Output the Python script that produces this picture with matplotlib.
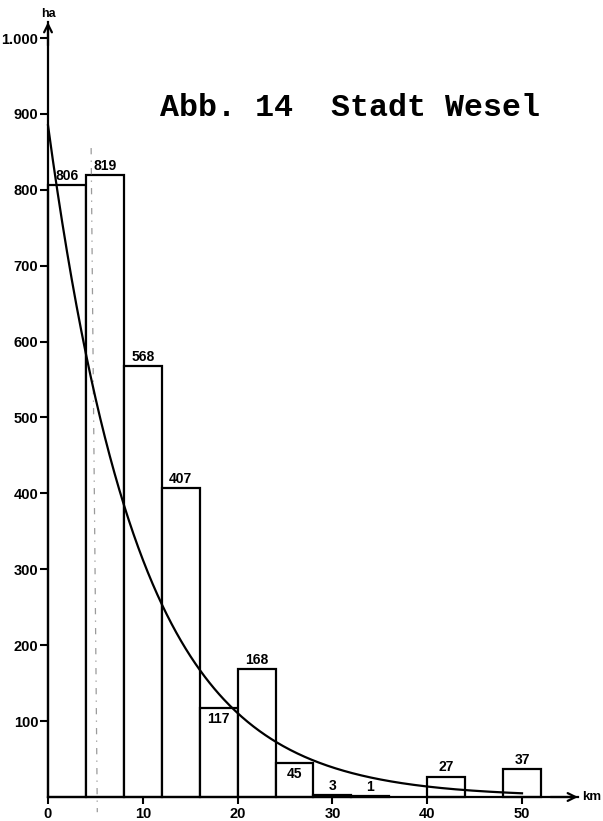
import numpy as np
import matplotlib
matplotlib.use("Agg")
import matplotlib.pyplot as plt

# ---- data ----
bin_starts = [0, 4, 8, 12, 16, 20, 24, 28, 32, 40, 48]   # km
bin_width = 4                                            # km
areas = [806, 819, 568, 407, 117, 168, 45, 3, 1, 27, 37]  # ha
labels_below = [117, 45]            # values whose label sits inside the bar
curve_a = 885                       # exponential fit: a * exp(-k * km)
curve_k = 0.104
marker_top_km = 4.55                # faint dash-dot reference line (slightly slanted)
marker_bottom_km = 5.2
x_ticks = [0, 10, 20, 30, 40, 50]
y_ticks = [100, 200, 300, 400, 500, 600, 700, 800, 900, 1000]
y_tick_labels = ["100", "200", "300", "400", "500", "600", "700", "800", "900", "1.000"]
title = "Abb. 14  Stadt Wesel"

# ---- layout (pixel mapping of reference) ----
W, H = 603, 821
px_per_km = 9.48
px_per_ha = 0.759
x0_px, y0_px = 48, 797

fig = plt.figure(figsize=(W / 100, H / 100), dpi=100)
ax = fig.add_axes([0, 0, 1, 1])
ax.set_xlim(-x0_px / px_per_km, (W - x0_px) / px_per_km)
ax.set_ylim(-(H - y0_px) / px_per_ha, y0_px / px_per_ha)
ax.patch.set_alpha(0)

narrow = ["DejaVu Sans Condensed", "Liberation Sans Narrow", "Liberation Sans", "DejaVu Sans"]
lab_font = dict(family=narrow, weight="bold")

# bars
ax.bar(bin_starts, areas, width=bin_width, align="edge", facecolor="white",
       edgecolor="black", linewidth=1.6, zorder=2)

# bar labels
for s, v in zip(bin_starts, areas):
    cx = s + bin_width / 2
    if v in labels_below:
        ax.annotate(str(v), (cx, v), xytext=(0, -3), textcoords="offset points",
                    ha="center", va="top", fontsize=10, zorder=5, **lab_font)
    else:
        ax.annotate(str(v), (cx, v), xytext=(0, 1.5), textcoords="offset points",
                    ha="center", va="bottom", fontsize=10, zorder=5, **lab_font)

# exponential curve
xc = np.linspace(0, 50, 400)
ax.plot(xc, curve_a * np.exp(-curve_k * xc), color="black", lw=1.6, zorder=4)

# faint dash-dot line
ax.plot([marker_top_km, marker_bottom_km], [855, -20], color="#9a9a9a", lw=0.9,
        ls=(0, (5, 5, 1, 5)), zorder=3)

# axes spines
for side in ["top", "right"]:
    ax.spines[side].set_visible(False)
ax.spines["left"].set_position(("data", 0))
ax.spines["bottom"].set_position(("data", 0))
ax.spines["left"].set_bounds(0, 1021)
ax.spines["bottom"].set_bounds(0, 55.9)
ax.spines["left"].set_linewidth(1.6)
ax.spines["bottom"].set_linewidth(1.6)
ax.spines["left"].set_zorder(6)
ax.spines["bottom"].set_zorder(6)

# arrow heads
ax.annotate("", xy=(0, 1021), xytext=(0, 990),
            arrowprops=dict(arrowstyle="->", lw=1.6, color="black",
                            mutation_scale=14, shrinkA=0, shrinkB=0))
ax.annotate("", xy=(55.9, 0), xytext=(53, 0),
            arrowprops=dict(arrowstyle="->", lw=1.6, color="black",
                            mutation_scale=14, shrinkA=0, shrinkB=0))

# ticks
ax.set_xticks(x_ticks)
ax.set_xticklabels([str(t) for t in x_ticks])
ax.set_yticks(y_ticks)
ax.set_yticklabels(y_tick_labels)
ax.tick_params(axis="y", direction="out", length=6, width=1.5, pad=1)
ax.tick_params(axis="x", direction="out", length=5, width=1.5, pad=2)
for lbl in ax.get_xticklabels() + ax.get_yticklabels():
    lbl.set_fontfamily(narrow)
    lbl.set_fontweight("bold")
    lbl.set_fontsize(10.5)

# axis unit labels
ax.text(0, 1032, "ha", ha="center", va="center", fontsize=9, **lab_font)
ax.text(56.3, 0, "km", ha="left", va="center", fontsize=9.5, **lab_font)

# title
fig.text(160 / W, 1 - 108 / H, title, family=["Liberation Mono", "DejaVu Sans Mono"],
         weight="bold", fontsize=22.8, ha="left", va="center")

fig.savefig("out.png", dpi=100, facecolor="white")
